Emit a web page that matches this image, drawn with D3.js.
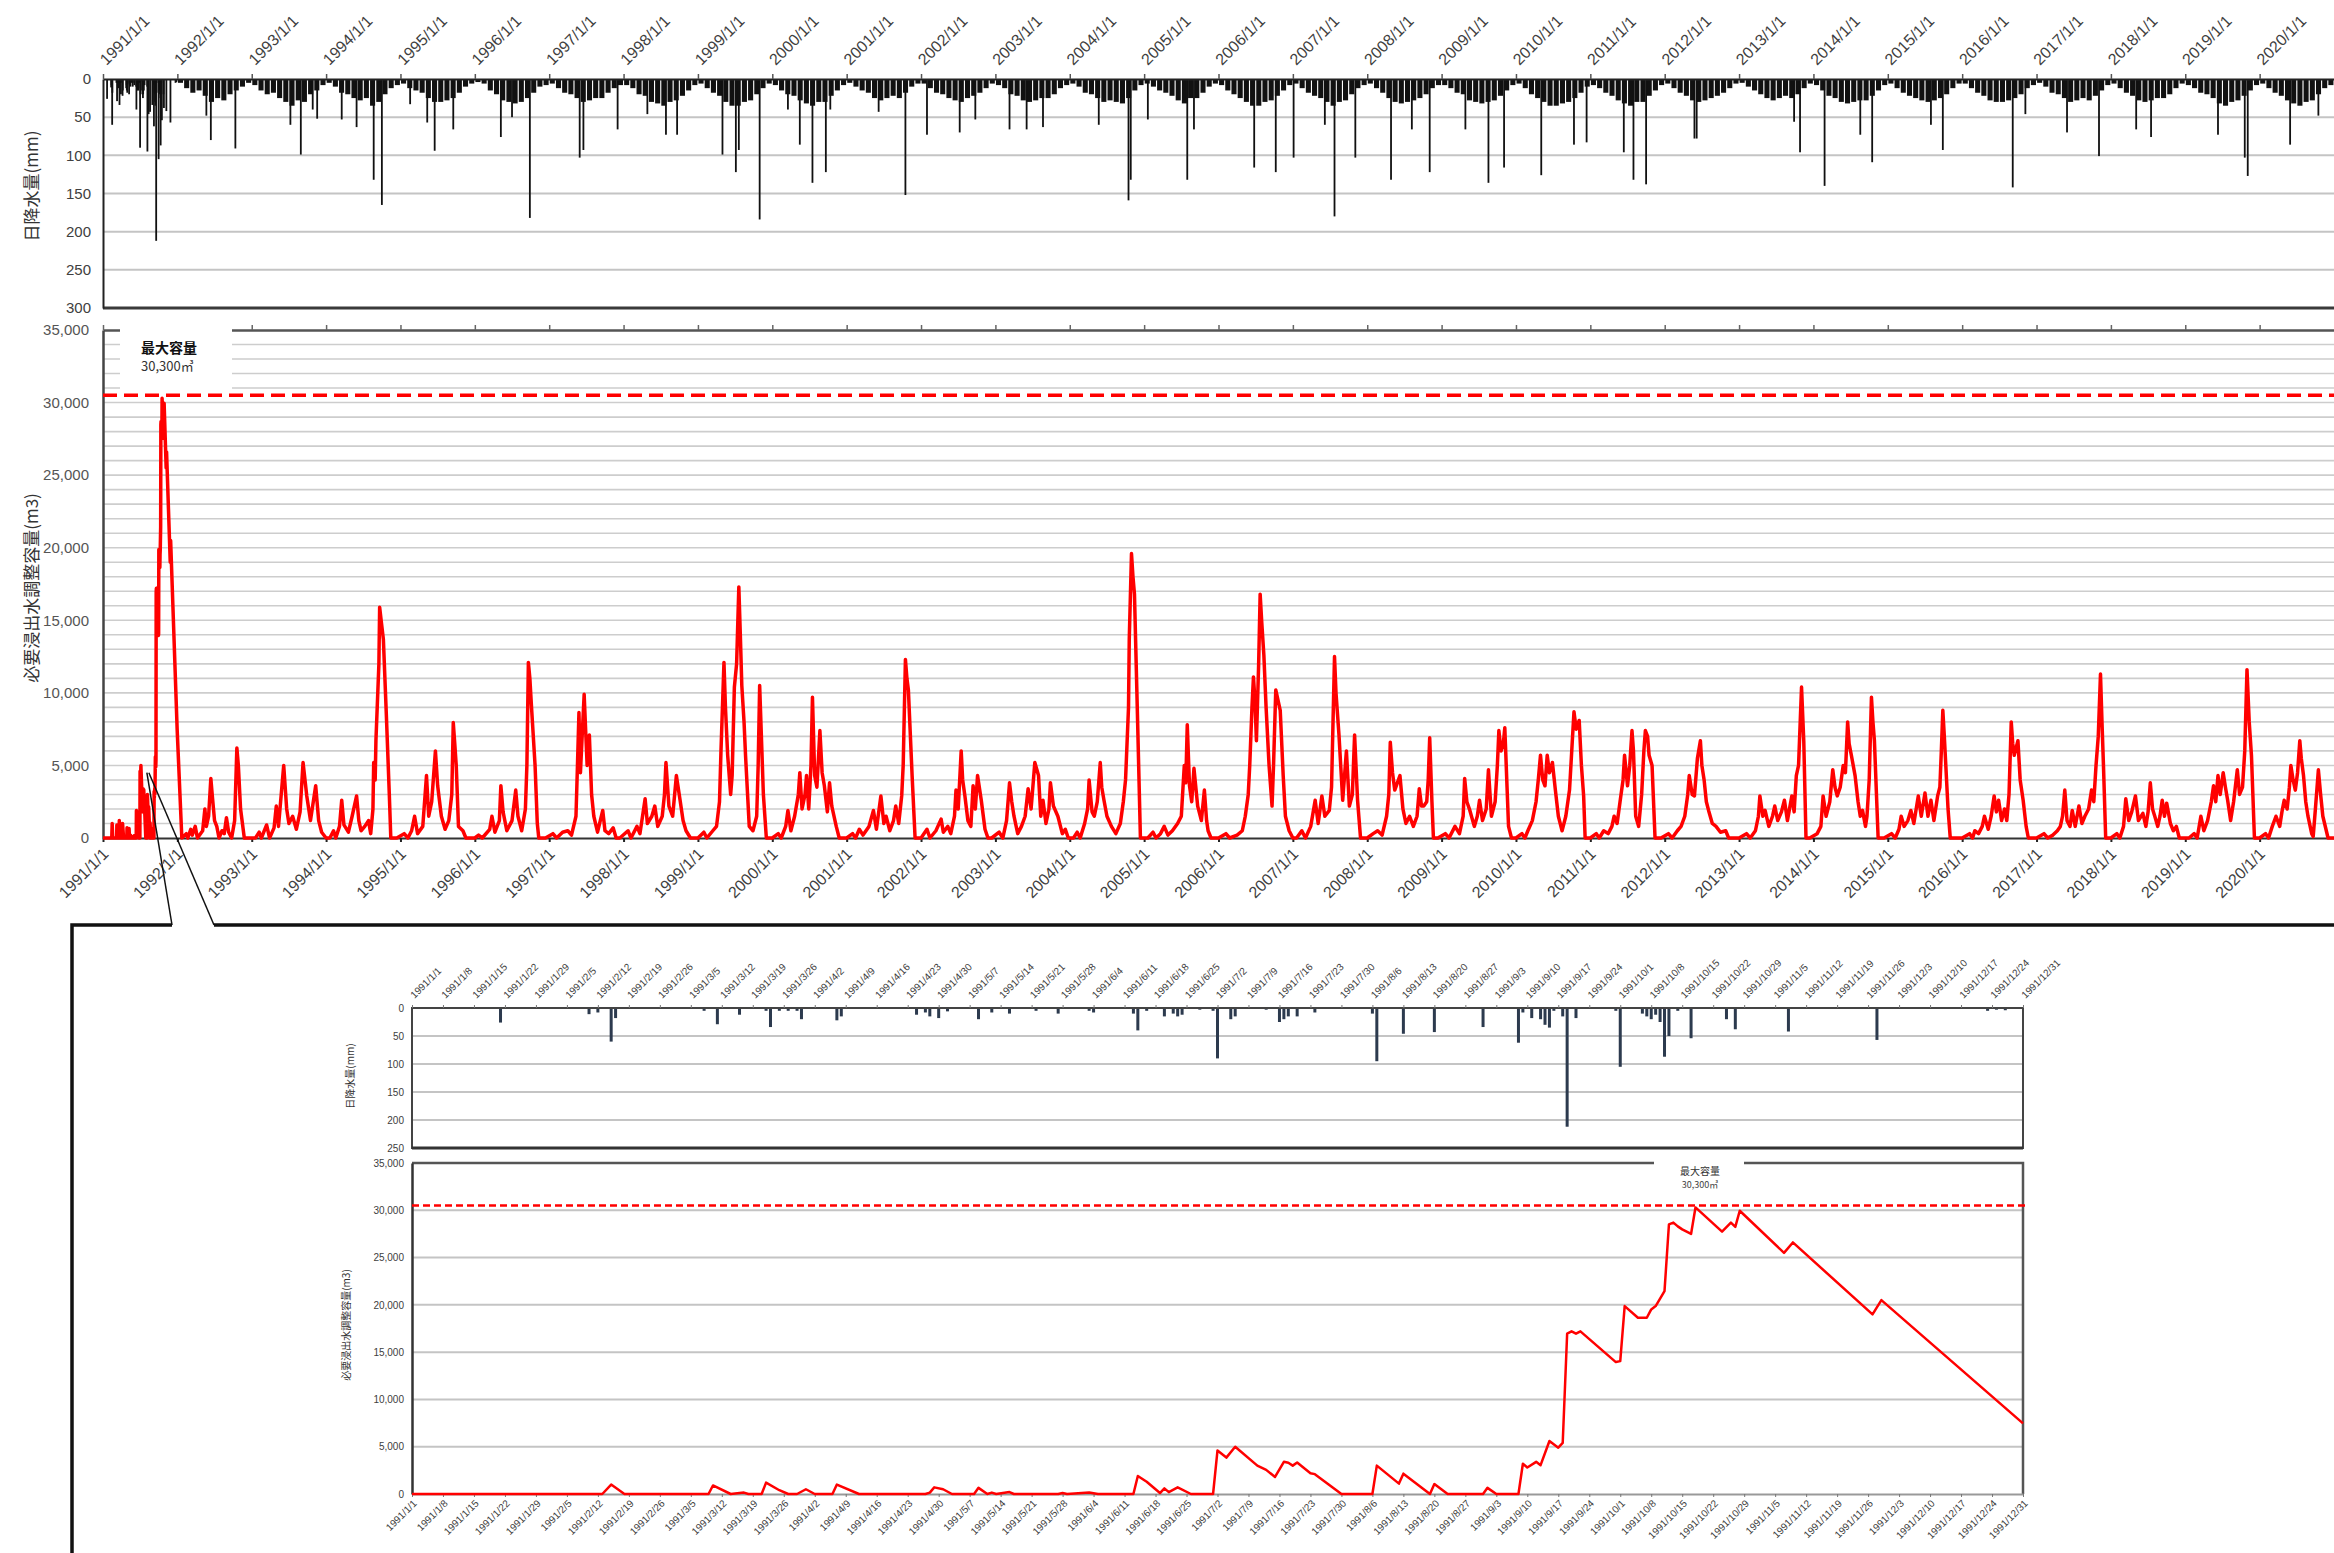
<!DOCTYPE html>
<html>
<head>
<meta charset="utf-8">
<script src="https://cdn.jsdelivr.net/npm/d3@7.9.0/dist/d3.min.js"></script>
<style>
  body { margin: 0; background: #fff; }
  svg { display: block; font-family: "Liberation Sans", Arial, sans-serif; }
  .jp { font-family: "Noto Sans CJK JP", sans-serif; }
</style>
</head>
<body>
<svg id="chart" width="2334" height="1553"></svg>
<script>
// ---- data ----
const years = d3.range(1991, 2021);
const yearTickLabels = years.map((y) => `${y}/1/1`);
const rainTicks = [0, 50, 100, 150, 200, 250, 300];
const rainTicksInset = [0, 50, 100, 150, 200, 250];
const storageTicks = d3.range(0, 35001, 5000);
const storageGrid = d3.range(0, 35001, 1000);
const maxCapacityLine = 30500;
const maxCapacityLabel = ['最大容量', '30,300㎥'];

// 1991 daily storage (day of year, m3) - the zoomed inset
const storage1991 = [
  [0, 0], [43, 0], [45, 1000], [48, 0], [67, 0], [68, 900], [72, 0], [75, 150], [76, 0],
  [79, 0], [80, 1200], [83, 400], [85, 0], [87, 0], [89, 500], [91, 0], [95, 0], [96, 1000], [101, 0],
  [116, 0], [117, 150], [118, 700], [120, 500], [122, 0], [127, 0], [128, 650], [130, 0], [131, 150], [132, 0],
  [135, 200], [136, 0], [146, 0], [147, 100], [148, 0], [153, 150], [155, 0],
  [163, 0], [164, 1900], [166, 1300], [169, 100], [170, 600], [171, 200], [173, 700], [176, 0],
  [181, 0], [182, 4600], [184, 3850], [186, 5000], [191, 3000], [193, 2550], [195, 1800], [197, 3400],
  [198, 3300], [199, 3000], [200, 3330], [203, 2200], [204, 2100], [210, 0],
  [217, 0], [218, 3000], [223, 1100], [224, 2150], [230, 0], [231, 1050], [234, 0], [242, 0], [243, 650], [245, 0],
  [250, 0], [251, 3200], [252, 2800], [254, 3400], [255, 3050], [257, 5600], [259, 4900], [260, 5400],
  [261, 16950], [262, 17200], [263, 16950], [264, 17200], [272, 13950], [273, 14050], [274, 19870],
  [277, 18640], [279, 18640], [280, 19520], [281, 19870], [283, 21460], [284, 28500], [285, 28700],
  [286, 28300], [287, 27980], [289, 27500], [290, 30300], [296, 27750], [298, 28700], [299, 28250],
  [300, 29950], [310, 25500], [312, 26600], [330, 19000], [332, 20500], [364, 7470]
];

// 1991 daily rainfall (day of year, mm)
const rain1991 = [
  [20, 26], [40, 11], [42, 8], [45, 60], [46, 18], [66, 5], [69, 29], [74, 12], [80, 5], [81, 34], [83, 5],
  [85, 5], [87, 5], [88, 20], [96, 22], [97, 15], [114, 12], [116, 8], [117, 15], [119, 18], [121, 6],
  [128, 20], [131, 8], [135, 10], [141, 5], [146, 10], [153, 5], [154, 8], [163, 10], [164, 40], [166, 5],
  [170, 15], [172, 10], [173, 15], [174, 12], [178, 3], [181, 5], [182, 90], [185, 20], [186, 15],
  [193, 3], [196, 25], [197, 20], [198, 15], [200, 15], [204, 8], [217, 10], [218, 95], [224, 46],
  [231, 43], [242, 34], [250, 62], [251, 8], [253, 18], [255, 20], [256, 30], [257, 35], [258, 5],
  [260, 15], [261, 212], [263, 18], [272, 5], [273, 105], [278, 10], [279, 15], [280, 20], [281, 12],
  [282, 25], [283, 87], [284, 50], [286, 5], [289, 54], [297, 20], [299, 38], [311, 42], [331, 57],
  [356, 5], [358, 3], [360, 4]
];

// 1992-2020 storage (decimal year, m3)
const storagePoints = [
  [1992.06, 0], [1992.12, 300], [1992.14, 0], [1992.18, 600], [1992.2, 200], [1992.24, 800], [1992.27, 0], [1992.34, 500], [1992.37, 2000], [1992.39, 800], [1992.42, 1500], [1992.45, 4100], [1992.47, 2900], [1992.5, 1200], [1992.53, 800], [1992.56, 0], [1992.6, 500], [1992.63, 300], [1992.66, 1400], [1992.69, 400], [1992.73, 0], [1992.77, 1200], [1992.8, 6200], [1992.82, 5000], [1992.85, 2000], [1992.9, 0],
  [1993.05, 0], [1993.1, 400], [1993.13, 0], [1993.2, 900], [1993.24, 0], [1993.3, 700], [1993.33, 2200], [1993.36, 800], [1993.43, 5000], [1993.47, 2000], [1993.5, 1000], [1993.55, 1500], [1993.6, 600], [1993.65, 1800], [1993.69, 5200], [1993.74, 2900], [1993.79, 1200], [1993.86, 3600], [1993.9, 1200], [1993.94, 400], [1994.0, 0],
  [1994.05, 0], [1994.1, 500], [1994.13, 0], [1994.18, 800], [1994.21, 2600], [1994.24, 900], [1994.3, 400], [1994.35, 1500], [1994.41, 2900], [1994.44, 1200], [1994.47, 500], [1994.52, 800], [1994.57, 1200], [1994.6, 300], [1994.63, 2000], [1994.64, 5200], [1994.66, 4000], [1994.67, 6700], [1994.71, 12000], [1994.72, 15900], [1994.74, 15000], [1994.77, 13700], [1994.81, 8500], [1994.85, 3000], [1994.87, 0],
  [1994.95, 0], [1995.05, 300], [1995.1, 0], [1995.15, 500], [1995.19, 1500], [1995.23, 300], [1995.3, 800], [1995.35, 4300], [1995.38, 1500], [1995.42, 2500], [1995.47, 6000], [1995.5, 3600], [1995.55, 1500], [1995.6, 600], [1995.65, 1200], [1995.69, 3000], [1995.71, 7950], [1995.73, 6500], [1995.75, 5000], [1995.78, 800], [1995.84, 500], [1995.88, 0],
  [1996.0, 0], [1996.05, 200], [1996.1, 0], [1996.2, 600], [1996.23, 1500], [1996.27, 400], [1996.33, 1200], [1996.35, 3600], [1996.38, 1800], [1996.43, 500], [1996.5, 1200], [1996.55, 3300], [1996.58, 1500], [1996.63, 500], [1996.68, 2000], [1996.7, 5000], [1996.72, 12100], [1996.74, 11000], [1996.76, 9200], [1996.81, 5000], [1996.84, 1000], [1996.86, 0],
  [1996.95, 0], [1997.05, 300], [1997.1, 0], [1997.18, 400], [1997.25, 500], [1997.3, 200], [1997.36, 1500], [1997.38, 5000], [1997.4, 8650], [1997.42, 4500], [1997.47, 9900], [1997.51, 5000], [1997.54, 7100], [1997.57, 3000], [1997.6, 1500], [1997.65, 400], [1997.72, 1900], [1997.75, 500], [1997.8, 300], [1997.86, 700], [1997.9, 0],
  [1997.95, 0], [1998.06, 500], [1998.1, 0], [1998.18, 800], [1998.22, 300], [1998.29, 2700], [1998.32, 1000], [1998.38, 1500], [1998.42, 2200], [1998.46, 800], [1998.52, 1500], [1998.55, 3000], [1998.57, 5200], [1998.61, 2200], [1998.66, 1500], [1998.71, 4300], [1998.76, 2600], [1998.8, 1200], [1998.84, 500], [1998.9, 0],
  [1999.0, 0], [1999.08, 400], [1999.12, 0], [1999.2, 500], [1999.25, 800], [1999.29, 2500], [1999.31, 6000], [1999.35, 12100], [1999.37, 9000], [1999.4, 5700], [1999.44, 3000], [1999.46, 4300], [1999.49, 10400], [1999.52, 12000], [1999.55, 17300], [1999.57, 14000], [1999.59, 10500], [1999.62, 8000], [1999.64, 5700], [1999.69, 800], [1999.74, 500], [1999.79, 1500], [1999.81, 5000], [1999.83, 10500], [1999.86, 6000], [1999.88, 3000], [1999.92, 0],
  [2000.0, 0], [2000.08, 300], [2000.12, 0], [2000.18, 800], [2000.21, 1900], [2000.25, 500], [2000.3, 1500], [2000.35, 3000], [2000.37, 4500], [2000.4, 2000], [2000.44, 3000], [2000.46, 4300], [2000.49, 2000], [2000.52, 5000], [2000.54, 9700], [2000.57, 4300], [2000.6, 3500], [2000.64, 7400], [2000.67, 4500], [2000.7, 3600], [2000.74, 1800], [2000.77, 3800], [2000.8, 2200], [2000.86, 800], [2000.9, 0],
  [2001.0, 0], [2001.08, 300], [2001.12, 0], [2001.17, 600], [2001.22, 200], [2001.3, 800], [2001.36, 1900], [2001.4, 600], [2001.46, 2900], [2001.5, 1000], [2001.53, 1500], [2001.58, 500], [2001.63, 1200], [2001.66, 2200], [2001.7, 1000], [2001.74, 2900], [2001.76, 5000], [2001.79, 12300], [2001.81, 11000], [2001.83, 10200], [2001.88, 4300], [2001.92, 0],
  [2002.0, 0], [2002.08, 600], [2002.12, 0], [2002.2, 500], [2002.27, 1300], [2002.3, 400], [2002.36, 800], [2002.4, 300], [2002.45, 1500], [2002.47, 3300], [2002.5, 2000], [2002.54, 6000], [2002.56, 4000], [2002.59, 2900], [2002.63, 1200], [2002.67, 800], [2002.7, 3600], [2002.73, 2000], [2002.76, 4300], [2002.81, 2600], [2002.86, 600], [2002.9, 0],
  [2002.95, 0], [2003.05, 400], [2003.1, 0], [2003.15, 1200], [2003.19, 3800], [2003.22, 2500], [2003.25, 1500], [2003.3, 300], [2003.35, 800], [2003.4, 1500], [2003.44, 3400], [2003.48, 2000], [2003.53, 5200], [2003.58, 4300], [2003.61, 1500], [2003.64, 2600], [2003.68, 1000], [2003.72, 2000], [2003.74, 3800], [2003.78, 2200], [2003.84, 1500], [2003.9, 300], [2003.94, 600], [2003.98, 0],
  [2004.05, 0], [2004.1, 400], [2004.14, 0], [2004.2, 1000], [2004.24, 2000], [2004.26, 4000], [2004.3, 1800], [2004.33, 1500], [2004.37, 2500], [2004.41, 5200], [2004.43, 3500], [2004.46, 2600], [2004.5, 1500], [2004.56, 800], [2004.62, 300], [2004.68, 1000], [2004.72, 2500], [2004.75, 4000], [2004.79, 9000], [2004.8, 13700], [2004.83, 19600], [2004.85, 18000], [2004.87, 16800], [2004.91, 8500], [2004.95, 0],
  [2005.05, 0], [2005.12, 400], [2005.16, 0], [2005.22, 300], [2005.27, 800], [2005.32, 200], [2005.38, 500], [2005.45, 1000], [2005.5, 1500], [2005.54, 5000], [2005.56, 3800], [2005.58, 7800], [2005.61, 3600], [2005.64, 2500], [2005.67, 4800], [2005.72, 2200], [2005.77, 1200], [2005.81, 3300], [2005.84, 1200], [2005.86, 500], [2005.9, 0],
  [2006.0, 0], [2006.1, 300], [2006.15, 0], [2006.25, 200], [2006.32, 500], [2006.36, 1500], [2006.4, 3000], [2006.42, 5000], [2006.45, 9000], [2006.47, 11100], [2006.49, 9500], [2006.51, 6700], [2006.54, 12000], [2006.56, 16800], [2006.58, 15000], [2006.61, 12600], [2006.64, 9000], [2006.68, 5000], [2006.72, 2200], [2006.74, 5000], [2006.77, 10200], [2006.8, 9500], [2006.83, 8800], [2006.87, 4300], [2006.9, 1500], [2006.95, 500], [2007.0, 0],
  [2007.05, 0], [2007.12, 500], [2007.17, 0], [2007.24, 800], [2007.3, 2600], [2007.34, 1000], [2007.39, 2900], [2007.43, 1500], [2007.49, 1900], [2007.52, 3500], [2007.54, 8000], [2007.56, 12500], [2007.58, 10000], [2007.62, 7100], [2007.67, 2600], [2007.72, 6000], [2007.76, 2200], [2007.8, 3000], [2007.83, 7100], [2007.87, 2600], [2007.91, 0],
  [2008.0, 0], [2008.08, 300], [2008.14, 500], [2008.2, 200], [2008.26, 1500], [2008.29, 3000], [2008.31, 6600], [2008.34, 4500], [2008.37, 3300], [2008.44, 4300], [2008.48, 2000], [2008.52, 1000], [2008.57, 1500], [2008.62, 800], [2008.67, 1500], [2008.7, 3400], [2008.73, 2200], [2008.76, 2200], [2008.8, 2500], [2008.82, 4000], [2008.84, 6900], [2008.87, 2500], [2008.89, 0],
  [2008.95, 0], [2009.05, 300], [2009.1, 0], [2009.18, 800], [2009.24, 300], [2009.29, 1500], [2009.31, 4100], [2009.34, 2500], [2009.38, 1900], [2009.44, 800], [2009.48, 1500], [2009.51, 2600], [2009.55, 1200], [2009.6, 2000], [2009.63, 4700], [2009.67, 1500], [2009.72, 2500], [2009.75, 5000], [2009.77, 7400], [2009.8, 6000], [2009.83, 6500], [2009.85, 7600], [2009.88, 3500], [2009.9, 800], [2009.94, 0],
  [2010.0, 0], [2010.08, 300], [2010.12, 0], [2010.16, 500], [2010.22, 1200], [2010.27, 2500], [2010.3, 4000], [2010.33, 5700], [2010.36, 4000], [2010.39, 3600], [2010.42, 5700], [2010.45, 4500], [2010.49, 5200], [2010.53, 3300], [2010.57, 1500], [2010.62, 500], [2010.67, 1500], [2010.72, 3300], [2010.75, 6000], [2010.78, 8700], [2010.81, 7500], [2010.85, 8100], [2010.88, 5000], [2010.91, 2900], [2010.93, 0],
  [2011.0, 0], [2011.08, 300], [2011.12, 0], [2011.18, 500], [2011.24, 300], [2011.29, 800], [2011.32, 1500], [2011.36, 1000], [2011.41, 2900], [2011.44, 4000], [2011.46, 5700], [2011.5, 3600], [2011.53, 5000], [2011.56, 7400], [2011.58, 6000], [2011.61, 1500], [2011.65, 800], [2011.69, 3000], [2011.72, 6000], [2011.74, 7400], [2011.77, 7000], [2011.79, 5700], [2011.83, 5000], [2011.87, 0],
  [2011.95, 0], [2012.05, 300], [2012.1, 0], [2012.17, 500], [2012.22, 800], [2012.27, 1500], [2012.31, 3000], [2012.33, 4300], [2012.37, 3000], [2012.4, 2900], [2012.44, 5500], [2012.48, 6700], [2012.5, 5000], [2012.53, 4000], [2012.56, 2500], [2012.59, 1900], [2012.64, 1000], [2012.69, 800], [2012.75, 400], [2012.82, 500], [2012.86, 0],
  [2013.0, 0], [2013.1, 300], [2013.15, 0], [2013.22, 500], [2013.26, 1500], [2013.28, 2900], [2013.32, 1500], [2013.35, 1900], [2013.4, 800], [2013.45, 1500], [2013.48, 2200], [2013.52, 1200], [2013.57, 1800], [2013.61, 2600], [2013.65, 1200], [2013.71, 2900], [2013.74, 1800], [2013.77, 4300], [2013.8, 5000], [2013.84, 10400], [2013.87, 6700], [2013.9, 0],
  [2013.95, 0], [2014.05, 300], [2014.1, 800], [2014.13, 2900], [2014.17, 1500], [2014.22, 2500], [2014.26, 4700], [2014.29, 3500], [2014.32, 2900], [2014.36, 3500], [2014.4, 5000], [2014.43, 4500], [2014.46, 8000], [2014.48, 6500], [2014.51, 5700], [2014.56, 4300], [2014.6, 2500], [2014.63, 1500], [2014.66, 1900], [2014.7, 800], [2014.72, 1500], [2014.75, 4000], [2014.78, 9700], [2014.8, 8000], [2014.82, 6700], [2014.87, 0],
  [2014.95, 0], [2015.05, 300], [2015.1, 0], [2015.15, 600], [2015.18, 1500], [2015.22, 800], [2015.27, 1200], [2015.31, 1900], [2015.35, 1000], [2015.41, 2900], [2015.45, 1500], [2015.5, 3100], [2015.54, 1500], [2015.58, 2600], [2015.62, 1200], [2015.67, 2900], [2015.7, 3500], [2015.72, 6000], [2015.74, 8800], [2015.76, 7000], [2015.78, 5000], [2015.81, 2000], [2015.84, 0],
  [2016.0, 0], [2016.1, 300], [2016.14, 0], [2016.17, 500], [2016.22, 300], [2016.27, 800], [2016.3, 1500], [2016.35, 600], [2016.39, 1500], [2016.43, 2900], [2016.46, 1800], [2016.49, 2600], [2016.53, 1200], [2016.57, 2000], [2016.6, 1200], [2016.63, 3000], [2016.66, 8000], [2016.68, 6500], [2016.7, 5700], [2016.75, 6700], [2016.78, 4000], [2016.82, 2600], [2016.86, 800], [2016.89, 0],
  [2017.0, 0], [2017.1, 300], [2017.15, 0], [2017.22, 200], [2017.28, 500], [2017.32, 800], [2017.35, 1500], [2017.38, 3300], [2017.41, 1200], [2017.45, 800], [2017.48, 1900], [2017.52, 800], [2017.57, 2200], [2017.61, 1000], [2017.65, 1500], [2017.7, 2000], [2017.74, 3300], [2017.77, 2500], [2017.8, 5000], [2017.83, 7000], [2017.86, 11300], [2017.88, 8000], [2017.9, 5000], [2017.93, 0],
  [2018.0, 0], [2018.08, 300], [2018.12, 0], [2018.17, 800], [2018.2, 2700], [2018.24, 1200], [2018.28, 1800], [2018.33, 2900], [2018.37, 1200], [2018.43, 1700], [2018.47, 800], [2018.5, 1800], [2018.53, 3800], [2018.56, 2000], [2018.59, 1500], [2018.63, 800], [2018.66, 1500], [2018.69, 2600], [2018.72, 1500], [2018.75, 2400], [2018.8, 1000], [2018.84, 500], [2018.88, 800], [2018.92, 0],
  [2019.05, 0], [2019.12, 300], [2019.16, 0], [2019.21, 1500], [2019.25, 500], [2019.3, 1200], [2019.35, 2500], [2019.38, 3600], [2019.41, 2500], [2019.44, 4300], [2019.47, 3000], [2019.51, 4500], [2019.54, 3500], [2019.57, 2600], [2019.61, 1200], [2019.65, 2500], [2019.7, 4700], [2019.73, 3000], [2019.77, 3500], [2019.8, 6000], [2019.83, 11600], [2019.86, 8000], [2019.89, 5700], [2019.93, 0],
  [2020.0, 0], [2020.08, 300], [2020.12, 0], [2020.17, 800], [2020.22, 1500], [2020.27, 800], [2020.3, 1800], [2020.33, 2600], [2020.37, 2000], [2020.4, 3500], [2020.42, 5000], [2020.45, 4000], [2020.48, 3300], [2020.51, 4500], [2020.54, 6700], [2020.56, 5500], [2020.59, 4300], [2020.62, 2500], [2020.65, 1500], [2020.7, 300], [2020.72, 100], [2020.75, 2000], [2020.79, 4700], [2020.82, 3000], [2020.85, 1500], [2020.92, 0], [2021.0, 0]
];

// 1992-2020 heavy rain days (decimal year, mm)
const rainSpikes = [
  [1992.39, 48], [1992.45, 80], [1992.78, 91], [1993.52, 60], [1993.66, 99], [1993.82, 40], [1993.88, 52],
  [1994.21, 53], [1994.41, 63], [1994.64, 132], [1994.75, 165], [1995.13, 33], [1995.36, 57], [1995.46, 94],
  [1995.71, 66], [1996.35, 76], [1996.5, 50], [1996.74, 182], [1997.41, 103], [1997.46, 93], [1997.92, 66],
  [1998.32, 46], [1998.57, 73], [1998.72, 73], [1999.33, 99], [1999.51, 122], [1999.55, 93], [1999.83, 184],
  [2000.21, 40], [2000.37, 86], [2000.54, 136], [2000.72, 122], [2000.78, 40], [2001.43, 43], [2001.79, 152],
  [2002.08, 73], [2002.52, 70], [2002.73, 53], [2003.19, 66], [2003.42, 66], [2003.64, 63], [2004.39, 60],
  [2004.79, 159], [2004.82, 132], [2005.05, 53], [2005.58, 132], [2005.67, 66], [2006.48, 116], [2006.77, 122],
  [2007.01, 103], [2007.43, 60], [2007.56, 180], [2007.84, 103], [2008.32, 132], [2008.6, 66], [2008.84, 122],
  [2009.32, 66], [2009.63, 136], [2009.84, 116], [2010.34, 126], [2010.78, 86], [2010.95, 83], [2011.45, 96],
  [2011.58, 132], [2011.75, 138], [2012.4, 78], [2012.43, 78], [2013.74, 56], [2013.82, 96], [2014.15, 140],
  [2014.63, 73], [2014.79, 109], [2015.58, 60], [2015.74, 93], [2016.68, 142], [2016.85, 46], [2017.41, 70],
  [2017.84, 101], [2018.34, 66], [2018.54, 76], [2019.44, 73], [2019.8, 103], [2019.84, 127], [2020.41, 86],
  [2020.79, 48]
];

// 1992-2020 typical daily rain for each month (mm), Jan..Dec
const rainMonthly = [
  [5, 12, 18, 15, 22, 30, 25, 28, 20, 15, 10, 5],
  [8, 15, 20, 18, 25, 30, 35, 28, 30, 20, 15, 8],
  [5, 10, 18, 20, 25, 28, 25, 35, 30, 20, 12, 8],
  [6, 12, 15, 18, 25, 30, 30, 28, 25, 18, 10, 6],
  [4, 6, 15, 20, 28, 30, 32, 30, 25, 18, 10, 8],
  [6, 12, 18, 20, 25, 30, 28, 25, 25, 18, 12, 8],
  [8, 12, 20, 22, 30, 32, 35, 30, 28, 22, 15, 8],
  [6, 12, 18, 22, 30, 35, 35, 30, 28, 20, 12, 6],
  [8, 15, 20, 22, 28, 32, 35, 30, 30, 22, 15, 8],
  [5, 10, 15, 18, 25, 28, 25, 22, 25, 18, 10, 6],
  [6, 12, 18, 20, 25, 28, 30, 25, 22, 18, 12, 6],
  [8, 12, 20, 22, 28, 30, 28, 25, 25, 20, 12, 8],
  [6, 10, 18, 20, 25, 30, 28, 30, 32, 25, 15, 8],
  [6, 10, 15, 18, 22, 28, 32, 25, 25, 18, 10, 6],
  [8, 15, 20, 25, 30, 35, 35, 30, 28, 22, 15, 8],
  [6, 12, 18, 22, 25, 30, 35, 30, 28, 20, 12, 8],
  [6, 12, 18, 25, 30, 32, 30, 28, 25, 20, 12, 8],
  [8, 12, 18, 20, 28, 30, 32, 30, 28, 22, 15, 8],
  [6, 12, 20, 25, 30, 35, 35, 32, 30, 25, 18, 10],
  [8, 12, 18, 22, 28, 32, 35, 30, 30, 22, 15, 8],
  [6, 12, 18, 22, 28, 30, 28, 25, 22, 18, 12, 6],
  [5, 10, 15, 20, 25, 28, 25, 22, 25, 20, 12, 6],
  [8, 15, 22, 25, 30, 32, 30, 28, 28, 22, 15, 8],
  [6, 12, 18, 22, 25, 28, 30, 28, 25, 20, 12, 6],
  [6, 12, 18, 22, 28, 30, 30, 28, 25, 20, 12, 8],
  [5, 10, 18, 20, 25, 30, 28, 25, 28, 22, 15, 8],
  [6, 12, 18, 22, 28, 30, 28, 25, 25, 20, 12, 6],
  [8, 12, 18, 20, 25, 32, 35, 30, 28, 22, 15, 8],
  [6, 12, 18, 22, 28, 32, 35, 30, 28, 20, 12, 8]
];

// ---- drawing ----
const svg = d3.select('#chart');
const red = '#ff0000';
const gridColor = '#c4c4c4';
const textColor = '#404040';

const xMain = d3.scaleLinear().domain([1991, 2021]).range([103, 2334]);
const yRain = d3.scaleLinear().domain([0, 300]).range([79, 308]);
const yStore = d3.scaleLinear().domain([0, 35000]).range([838, 330]);

const xDay = d3.scaleLinear().domain([0, 364]).range([412, 2023]);
const yRainIn = d3.scaleLinear().domain([0, 250]).range([1008, 1148]);
const yStoreIn = d3.scaleLinear().domain([0, 35000]).range([1494, 1163]);

const dayBase = new Date(1991, 0, 1);
const dayLabel = (d) => {
  const dt = d3.timeDay.offset(dayBase, d);
  return `${dt.getFullYear()}/${dt.getMonth() + 1}/${dt.getDate()}`;
};
const weekTicks = d3.range(0, 365, 7);

function hGrid(g, values, yScale, x0, x1, color, width) {
  g.selectAll(null).data(values).join('line')
    .attr('x1', x0).attr('x2', x1)
    .attr('y1', (d) => yScale(d)).attr('y2', (d) => yScale(d))
    .attr('stroke', color).attr('stroke-width', width);
}

// ===== top: daily rainfall 1991-2020 =====
const gRain = svg.append('g');
hGrid(gRain, [50, 100, 150, 200, 250], yRain, 103, 2334, gridColor, 2);

const monthW = (xMain(1 / 12) - xMain(0)) * 0.82;
rainMonthly.forEach((row, i) => {
  const yr = 1992 + i;
  gRain.selectAll(null).data(row).join('rect')
    .attr('x', (d, m) => xMain(yr + (m + 0.09) / 12))
    .attr('y', yRain(0))
    .attr('width', monthW)
    .attr('height', (d) => yRain(d) - yRain(0))
    .attr('fill', '#111');
});
gRain.selectAll(null).data(rain1991).join('rect')
  .attr('x', (d) => xMain(1991 + d[0] / 365) - 0.9)
  .attr('y', yRain(0))
  .attr('width', 1.8)
  .attr('height', (d) => yRain(d[1]) - yRain(0))
  .attr('fill', '#111');
gRain.selectAll(null).data(rainSpikes).join('rect')
  .attr('x', (d) => xMain(d[0]) - 0.9)
  .attr('y', yRain(0))
  .attr('width', 1.8)
  .attr('height', (d) => yRain(d[1]) - yRain(0))
  .attr('fill', '#111');

gRain.append('line').attr('x1', 103).attr('x2', 2334).attr('y1', yRain(300)).attr('y2', yRain(300))
  .attr('stroke', '#3a3a3a').attr('stroke-width', 3);

const rainTopAxis = gRain.append('g').attr('transform', `translate(0,${yRain(0)})`)
  .call(d3.axisTop(xMain).tickValues(years).tickFormat((d, i) => yearTickLabels[i]).tickSize(5).tickSizeOuter(0));
rainTopAxis.select('.domain').attr('stroke', '#222').attr('stroke-width', 2);
rainTopAxis.selectAll('.tick line').attr('stroke', '#555').attr('stroke-width', 1.5);
rainTopAxis.selectAll('text')
  .attr('x', 0).attr('y', 0).attr('dy', 0)
  .attr('text-anchor', 'start')
  .attr('transform', 'translate(3,-13) rotate(-45)')
  .attr('font-size', 16).attr('fill', textColor);

const rainY = gRain.append('g').attr('transform', 'translate(103,0)')
  .call(d3.axisLeft(yRain).tickValues(rainTicks).tickSize(0).tickPadding(12));
rainY.select('.domain').attr('stroke', '#222').attr('stroke-width', 2);
rainY.selectAll('text').attr('font-size', 15).attr('fill', textColor);

gRain.append('text').attr('class', 'jp')
  .attr('transform', 'translate(38,186) rotate(-90)')
  .attr('text-anchor', 'middle').attr('font-size', 17).attr('fill', '#333')
  .text('日降水量(mm)');

// ===== middle: storage 1991-2020 =====
const gStore = svg.append('g');
hGrid(gStore, storageGrid.filter((d) => d > 0 && d < 35000), yStore, 103, 2334, '#cdcdcd', 1.6);

const storeTop = gStore.append('g').attr('transform', `translate(0,${yStore(35000)})`)
  .call(d3.axisTop(xMain).tickValues(years).tickFormat('').tickSize(5).tickSizeOuter(0));
storeTop.select('.domain').attr('stroke', '#555').attr('stroke-width', 2.5);
storeTop.selectAll('.tick line').attr('stroke', '#666').attr('stroke-width', 1.5);

const storeBottom = gStore.append('g').attr('transform', `translate(0,${yStore(0)})`)
  .call(d3.axisBottom(xMain).tickValues(years).tickFormat((d, i) => yearTickLabels[i]).tickSize(4).tickSizeOuter(0));
storeBottom.select('.domain').attr('stroke', '#333').attr('stroke-width', 2);
storeBottom.selectAll('.tick line').attr('stroke', '#222').attr('stroke-width', 2);
storeBottom.selectAll('text')
  .attr('x', 0).attr('y', 0).attr('dy', 0)
  .attr('text-anchor', 'end')
  .attr('transform', 'translate(6,17) rotate(-45)')
  .attr('font-size', 16).attr('fill', textColor);

const storeY = gStore.append('g').attr('transform', 'translate(103,0)')
  .call(d3.axisLeft(yStore).tickValues(storageTicks).tickFormat(d3.format(',')).tickSize(0).tickPadding(14));
storeY.select('.domain').attr('stroke', '#444').attr('stroke-width', 2.5);
storeY.selectAll('text').attr('font-size', 15).attr('fill', '#555');

gStore.append('text').attr('class', 'jp')
  .attr('transform', 'translate(38,588) rotate(-90)')
  .attr('text-anchor', 'middle').attr('font-size', 17).attr('fill', '#333')
  .text('必要浸出水調整容量(m3)');

// legend box over the top border
gStore.append('rect').attr('x', 120).attr('y', 322).attr('width', 112).attr('height', 68).attr('fill', '#fff');
gStore.append('text').attr('class', 'jp').attr('x', 141).attr('y', 353)
  .attr('font-size', 14).attr('font-weight', 'bold').attr('fill', '#111').text(maxCapacityLabel[0]);
gStore.append('text').attr('class', 'jp').attr('x', 141).attr('y', 371)
  .attr('font-size', 13).attr('fill', '#333').text(maxCapacityLabel[1]);

gStore.append('line').attr('x1', 103).attr('x2', 2334)
  .attr('y1', yStore(maxCapacityLine)).attr('y2', yStore(maxCapacityLine))
  .attr('stroke', red).attr('stroke-width', 3.5).attr('stroke-dasharray', '14,7');

const mainSeries = storage1991.map(([d, v]) => [1991 + d / 365, v]).concat(storagePoints);
const mainLine = d3.line().x((d) => xMain(d[0])).y((d) => yStore(d[1]));
gStore.append('path').datum(mainSeries)
  .attr('d', mainLine).attr('fill', 'none')
  .attr('stroke', red).attr('stroke-width', 3.5).attr('stroke-linejoin', 'round');

// ===== zoom frame and leader lines =====
const gFrame = svg.append('g');
const leadX = xMain(1991.59);
const leadY = yStore(4500);
gFrame.append('line').attr('x1', leadX).attr('y1', leadY).attr('x2', 172).attr('y2', 925)
  .attr('stroke', '#111').attr('stroke-width', 1.5);
gFrame.append('line').attr('x1', leadX + 2).attr('y1', leadY).attr('x2', 214).attr('y2', 925)
  .attr('stroke', '#111').attr('stroke-width', 1.5);
gFrame.append('path').attr('d', 'M72,1553 V925 H172 M214,925 H2334')
  .attr('fill', 'none').attr('stroke', '#111').attr('stroke-width', 3.5);

// ===== inset top: 1991 daily rainfall =====
const gInRain = svg.append('g');
hGrid(gInRain, [50, 100, 150, 200], yRainIn, 412, 2023, gridColor, 2);
gInRain.selectAll(null).data(rain1991).join('rect')
  .attr('x', (d) => xDay(d[0]) - 1.5)
  .attr('y', yRainIn(0))
  .attr('width', 3)
  .attr('height', (d) => yRainIn(d[1]) - yRainIn(0))
  .attr('fill', '#2c3a4e');
gInRain.append('rect').attr('x', 412).attr('y', yRainIn(0)).attr('width', 2023 - 412)
  .attr('height', yRainIn(250) - yRainIn(0)).attr('fill', 'none')
  .attr('stroke', '#444').attr('stroke-width', 2);
gInRain.append('line').attr('x1', 412).attr('x2', 2023).attr('y1', yRainIn(250)).attr('y2', yRainIn(250))
  .attr('stroke', '#333').attr('stroke-width', 3);

const inRainAxis = gInRain.append('g').attr('transform', `translate(0,${yRainIn(0)})`)
  .call(d3.axisTop(xDay).tickValues(weekTicks).tickFormat(dayLabel).tickSize(3).tickSizeOuter(0));
inRainAxis.select('.domain').remove();
inRainAxis.selectAll('.tick line').attr('stroke', '#777');
inRainAxis.selectAll('text')
  .attr('x', 0).attr('y', 0).attr('dy', 0)
  .attr('text-anchor', 'start')
  .attr('transform', 'translate(2,-9) rotate(-45)')
  .attr('font-size', 10).attr('fill', textColor);

const inRainY = gInRain.append('g').attr('transform', 'translate(412,0)')
  .call(d3.axisLeft(yRainIn).tickValues(rainTicksInset).tickSize(0).tickPadding(8));
inRainY.select('.domain').remove();
inRainY.selectAll('text').attr('font-size', 10).attr('fill', textColor);

gInRain.append('text').attr('class', 'jp')
  .attr('transform', 'translate(354,1076) rotate(-90)')
  .attr('text-anchor', 'middle').attr('font-size', 10).attr('fill', '#333')
  .text('日降水量(mm)');

// ===== inset bottom: 1991 daily storage =====
const gInStore = svg.append('g');
hGrid(gInStore, storageTicks.filter((d) => d > 0 && d < 35000), yStoreIn, 412, 2023, gridColor, 2);

gInStore.append('path').attr('d', `M412,${yStoreIn(35000)} H1654 M1744,${yStoreIn(35000)} H2023 V${yStoreIn(0)}`)
  .attr('fill', 'none').attr('stroke', '#555').attr('stroke-width', 2.5);
gInStore.append('text').attr('class', 'jp').attr('x', 1700).attr('y', 1175).attr('text-anchor', 'middle')
  .attr('font-size', 10).attr('fill', '#333').text(maxCapacityLabel[0]);
gInStore.append('text').attr('class', 'jp').attr('x', 1700).attr('y', 1188).attr('text-anchor', 'middle')
  .attr('font-size', 9).attr('fill', '#444').text(maxCapacityLabel[1]);

const inStoreBottom = gInStore.append('g').attr('transform', `translate(0,${yStoreIn(0)})`)
  .call(d3.axisBottom(xDay).tickValues(weekTicks).tickFormat(dayLabel).tickSize(3).tickSizeOuter(0));
inStoreBottom.select('.domain').attr('stroke', '#999').attr('stroke-width', 2);
inStoreBottom.selectAll('.tick line').attr('stroke', '#777');
inStoreBottom.selectAll('text')
  .attr('x', 0).attr('y', 0).attr('dy', 0)
  .attr('text-anchor', 'end')
  .attr('transform', 'translate(5,10) rotate(-45)')
  .attr('font-size', 10).attr('fill', textColor);

const inStoreY = gInStore.append('g').attr('transform', 'translate(412,0)')
  .call(d3.axisLeft(yStoreIn).tickValues(storageTicks).tickFormat(d3.format(',')).tickSize(0).tickPadding(8));
inStoreY.select('.domain').attr('stroke', '#333').attr('stroke-width', 2.5);
inStoreY.selectAll('text').attr('font-size', 10).attr('fill', textColor);

gInStore.append('text').attr('class', 'jp')
  .attr('transform', 'translate(350,1325) rotate(-90)')
  .attr('text-anchor', 'middle').attr('font-size', 10).attr('fill', '#333')
  .text('必要浸出水調整容量(m3)');

gInStore.append('line').attr('x1', 412).attr('x2', 2027)
  .attr('y1', yStoreIn(maxCapacityLine)).attr('y2', yStoreIn(maxCapacityLine))
  .attr('stroke', red).attr('stroke-width', 2.5).attr('stroke-dasharray', '7,4');

const insetLine = d3.line().x((d) => xDay(d[0])).y((d) => yStoreIn(d[1]));
gInStore.append('path').datum(storage1991)
  .attr('d', insetLine).attr('fill', 'none')
  .attr('stroke', red).attr('stroke-width', 2.5).attr('stroke-linejoin', 'round');
</script>
</body>
</html>
